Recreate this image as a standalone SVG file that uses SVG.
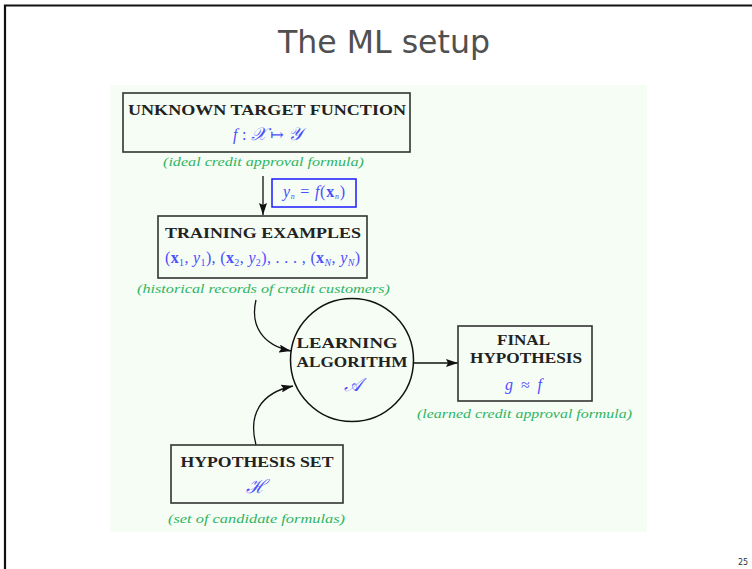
<svg xmlns="http://www.w3.org/2000/svg" width="752" height="569" viewBox="0 0 752 569">
  <style>
    .box { fill: none; stroke: #333; stroke-width: 1.6; }
    .head { font-family: "Liberation Serif", "DejaVu Serif", serif; font-weight: bold; font-size: 15px; fill: #222; text-anchor: middle; }
    .math { font-family: "Liberation Serif", "DejaVu Serif", serif; font-style: italic; font-size: 16px; fill: #4d4dff; text-anchor: middle; }
    .script { font-size: 19px; }
    .note { font-family: "Liberation Serif", "DejaVu Serif", serif; font-style: italic; font-size: 13.5px; fill: #2fb463; text-anchor: middle; }
    .wire { fill: none; stroke: #111; stroke-width: 1.3; }
    .up { font-style: normal; }
    .bx { font-style: normal; font-weight: bold; }
  </style>
  <defs>
    <marker id="arrow" viewBox="0 0 12 8" refX="12" refY="4" markerWidth="12" markerHeight="8" markerUnits="userSpaceOnUse" orient="auto">
      <path d="M0,0 L12,4 L0,8 L2,4 Z" fill="#111"/>
    </marker>
  </defs>

  <!-- page -->
  <rect x="0" y="0" width="752" height="569" fill="#fff"/>
  <path d="M5,569 V5.5 H752" fill="none" stroke="#111" stroke-width="2.2"/>
  <text x="384" y="53" font-family="DejaVu Sans, sans-serif" font-size="32" fill="#505050" text-anchor="middle" textLength="212" lengthAdjust="spacingAndGlyphs">The ML setup</text>
  <text x="743" y="565" font-family="DejaVu Sans, sans-serif" font-size="8" fill="#333" text-anchor="middle">25</text>

  <!-- diagram backdrop -->
  <rect x="110" y="85" width="537" height="447" fill="#f5fdf5"/>

  <!-- connectors -->
  <g id="connectors">
    <path class="wire" d="M263,176 V215" marker-end="url(#arrow)"/>
    <path class="wire" d="M256,300 C250,325 262,345 291,351" marker-end="url(#arrow)"/>
    <path class="wire" d="M256,445 C248,415 260,393 293,386" marker-end="url(#arrow)"/>
    <path class="wire" d="M414,363 H458" marker-end="url(#arrow)"/>
  </g>

  <!-- unknown target function -->
  <g id="target">
    <rect class="box" x="123" y="93" width="287" height="59"/>
    <text class="head" x="267" y="115" textLength="278" lengthAdjust="spacingAndGlyphs">UNKNOWN TARGET FUNCTION</text>
    <text class="math" x="267.5" y="140" textLength="69" lengthAdjust="spacing">f<tspan class="up"> : </tspan><tspan font-size="18">𝒳</tspan><tspan class="up"> ↦ </tspan><tspan font-size="18">𝒴</tspan></text>
    <text class="note" x="263.5" y="166" textLength="201" lengthAdjust="spacingAndGlyphs">(ideal credit approval formula)</text>
  </g>

  <!-- sampling label -->
  <g id="sample">
    <rect x="272" y="179" width="84" height="28" fill="none" stroke="#1a1aff" stroke-width="1.5"/>
    <text class="math" x="314" y="197" font-size="12" textLength="62" lengthAdjust="spacing">y<tspan font-size="8" dy="2">n</tspan><tspan class="up" dy="-2"> = </tspan>f<tspan class="up">(</tspan><tspan class="bx">x</tspan><tspan font-size="8" dy="2">n</tspan><tspan class="up" dy="-2">)</tspan></text>
  </g>

  <!-- training examples -->
  <g id="training">
    <rect class="box" x="158" y="216" width="209" height="62"/>
    <text class="head" x="263" y="238" textLength="196" lengthAdjust="spacingAndGlyphs">TRAINING EXAMPLES</text>
    <text class="math" x="262.5" y="263" font-size="15" textLength="195" lengthAdjust="spacing"><tspan class="up">(</tspan><tspan class="bx">x</tspan><tspan class="up" font-size="10" dy="3">1</tspan><tspan class="up" dy="-3">, </tspan>y<tspan class="up" font-size="10" dy="3">1</tspan><tspan class="up" dy="-3">), (</tspan><tspan class="bx">x</tspan><tspan class="up" font-size="10" dy="3">2</tspan><tspan class="up" dy="-3">, </tspan>y<tspan class="up" font-size="10" dy="3">2</tspan><tspan class="up" dy="-3">), . . . , (</tspan><tspan class="bx">x</tspan><tspan font-size="10" dy="3">N</tspan><tspan class="up" dy="-3">, </tspan>y<tspan font-size="10" dy="3">N</tspan><tspan class="up" dy="-3">)</tspan></text>
    <text class="note" x="263.5" y="293" textLength="253" lengthAdjust="spacingAndGlyphs">(historical records of credit customers)</text>
  </g>

  <!-- learning algorithm -->
  <g id="algorithm">
    <circle cx="352" cy="360" r="61.5" fill="none" stroke="#111" stroke-width="1.5"/>
    <text class="head" x="347" y="348" textLength="101" lengthAdjust="spacingAndGlyphs">LEARNING</text>
    <text class="head" x="352" y="367" textLength="111" lengthAdjust="spacingAndGlyphs">ALGORITHM</text>
    <text class="math script" x="353" y="391">𝒜</text>
  </g>

  <!-- final hypothesis -->
  <g id="final">
    <rect class="box" x="458" y="326" width="134" height="75"/>
    <text class="head" x="523.5" y="345" textLength="53" lengthAdjust="spacingAndGlyphs">FINAL</text>
    <text class="head" x="526" y="363" textLength="112" lengthAdjust="spacingAndGlyphs">HYPOTHESIS</text>
    <text class="math" x="523.5" y="390" textLength="37" lengthAdjust="spacing">g<tspan class="up"> ≈ </tspan>f</text>
    <text class="note" x="524.5" y="418" textLength="215" lengthAdjust="spacingAndGlyphs">(learned credit approval formula)</text>
  </g>

  <!-- hypothesis set -->
  <g id="hypset">
    <rect class="box" x="171" y="445" width="172" height="58"/>
    <text class="head" x="257" y="467" textLength="153" lengthAdjust="spacingAndGlyphs">HYPOTHESIS SET</text>
    <text class="math script" x="256" y="493">ℋ</text>
    <text class="note" x="256.5" y="523" textLength="177" lengthAdjust="spacingAndGlyphs">(set of candidate formulas)</text>
  </g>
</svg>
